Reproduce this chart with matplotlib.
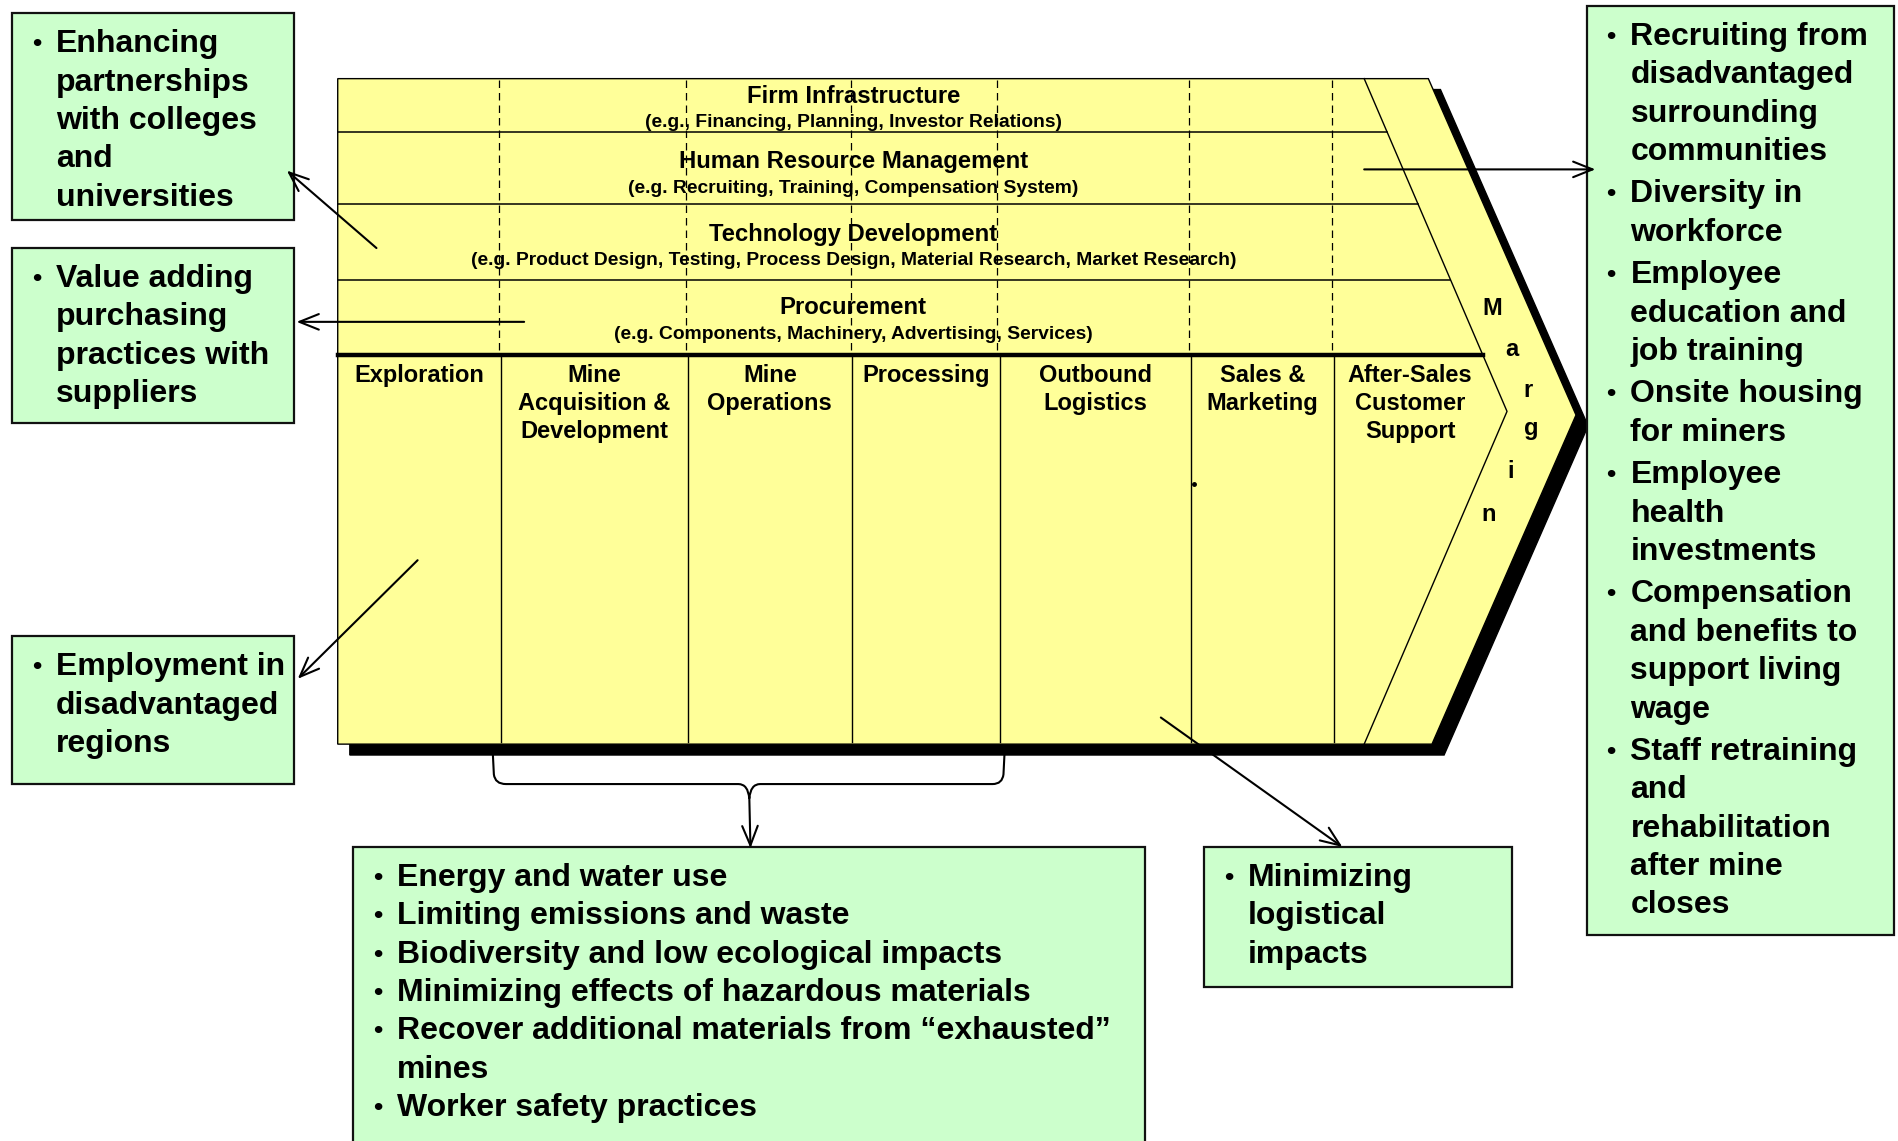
import matplotlib
matplotlib.use("Agg")
import matplotlib.pyplot as plt
from matplotlib.patches import Polygon, Rectangle, PathPatch
from matplotlib.path import Path

plt.rcParams['font.family'] = ['Liberation Sans', 'DejaVu Sans']
plt.rcParams['font.weight'] = 'bold'

# ---- content ----
support_rows = ["Firm Infrastructure", "Human Resource Management",
                "Technology Development", "Procurement"]
support_examples = ["(e.g., Financing, Planning, Investor Relations)",
                    "(e.g. Recruiting, Training, Compensation System)",
                    "(e.g. Product Design, Testing, Process Design, Material Research, Market Research)",
                    "(e.g. Components, Machinery, Advertising, Services)"]
primary_activities = ["Exploration", "Mine\nAcquisition &\nDevelopment", "Mine\nOperations",
                      "Processing", "Outbound\nLogistics", "Sales &\nMarketing",
                      "After-Sales\nCustomer\nSupport"]
margin_label = "Margin"

box_partnerships = ["Enhancing\npartnerships\nwith colleges\nand\nuniversities"]
box_purchasing = ["Value adding\npurchasing\npractices with\nsuppliers"]
box_employment = ["Employment in\ndisadvantaged\nregions"]
box_operations = ["Energy and water use",
                  "Limiting emissions and waste",
                  "Biodiversity and low ecological impacts",
                  "Minimizing effects of hazardous materials",
                  "Recover additional materials from \u201cexhausted\u201d\nmines",
                  "Worker safety practices"]
box_logistics = ["Minimizing\nlogistical\nimpacts"]
box_hr = ["Recruiting from\ndisadvantaged\nsurrounding\ncommunities",
          "Diversity in\nworkforce",
          "Employee\neducation and\njob training",
          "Onsite housing\nfor miners",
          "Employee\nhealth\ninvestments",
          "Compensation\nand benefits to\nsupport living\nwage",
          "Staff retraining\nand\nrehabilitation\nafter mine\ncloses"]

# ---- layout (units = pixels of a 1568 x 943 canvas) ----
W, H = 1568, 943
YELLOW = "#FFFF99"
GREEN = "#CCFFCC"
row_edges = [65, 109, 169, 231, 293]
col_edges = [279, 414, 568, 704, 826, 984, 1102]
dashed_x = [412, 567, 703, 824, 982, 1100]
bottom = 615

fig = plt.figure(figsize=(18.98, 11.41), dpi=100)
ax = fig.add_axes([0, 0, 1, 1])
ax.set_xlim(0, W)
ax.set_ylim(H, 0)
ax.axis('off')

outer = [(279, 65), (1180, 65), (1302, 343), (1183, bottom), (279, bottom)]
shadow = [(x + 10, y + 9) for x, y in outer]
ax.add_patch(Polygon(shadow, closed=True, fc='black', ec='black', lw=1, zorder=2))
ax.add_patch(Polygon(outer, closed=True, fc=YELLOW, ec='black', lw=1, zorder=3))

# inner chevron line
inner = [(1127, 65), (1245, 340), (1127, bottom)]
ax.plot([p[0] for p in inner], [p[1] for p in inner], color='black', lw=1, zorder=4)


def inner_x(y):
    return 1127 + (y - 65) / (340 - 65) * (1245 - 1127)


# horizontal separators of support activities
for y in row_edges[1:-1]:
    ax.plot([279, inner_x(y)], [y, y], color='black', lw=1.1, zorder=4)
ax.plot([279, inner_x(row_edges[-1])], [row_edges[-1]] * 2, color='black', lw=3.2, zorder=5)

for x in dashed_x:
    ax.plot([x, x], [66, row_edges[-1]], color='black', lw=0.9, ls=(0, (6, 4)), zorder=4)
for x in col_edges[1:]:
    ax.plot([x, x], [row_edges[-1], bottom - 2], color='black', lw=1, zorder=4)

header_y = [79.5, 133.5, 193.5, 254.5]
for name, ex, y in zip(support_rows, support_examples, header_y):
    ax.text(705, y, name, ha='center', va='center', fontsize=17.2, zorder=6)
    ax.text(705, y + 22, ex, ha='center', va='center', fontsize=13.9, zorder=6)

centers = [(a + b) / 2 for a, b in zip(col_edges[:-1], col_edges[1:])] + [1165]
for label, cx in zip(primary_activities, centers):
    for i, line in enumerate(label.split("\n")):
        ax.text(cx, 310.5 + 23 * i, line, ha='center', va='center', fontsize=17, zorder=6)

margin_pos = [(1233, 255), (1249, 289), (1262, 323), (1265, 354), (1248, 390), (1230, 425)]
for ch, (x, y) in zip(margin_label, margin_pos):
    ax.text(x, y, ch, ha='center', va='center', fontsize=17, zorder=6)

ax.plot([986], [400], marker='o', ms=2.5, color='black', zorder=6)


def green_box(x0, y0, x1, y1, items, gap=0.0, step=31.7):
    ax.add_patch(Rectangle((x0, y0), x1 - x0, y1 - y0, fc=GREEN, ec='#111111', lw=1.6, zorder=3))
    y = y0 + 25.5
    for item in items:
        ax.text(x0 + 20, y, "\u2022", ha='center', va='center', fontsize=19, zorder=6)
        for line in item.split("\n"):
            ax.text(x0 + 36, y, line, ha='left', va='center', fontsize=23, zorder=6)
            y += step
        y += gap


green_box(10, 11, 243, 182, box_partnerships)
green_box(10, 205, 243, 350, box_purchasing)
green_box(10, 526, 243, 648, box_employment)
green_box(292, 700, 946, 960, box_operations)
green_box(995, 700, 1249, 816, box_logistics)
green_box(1311, 5, 1565, 773, box_hr, gap=3.4)

arrow_kw = dict(arrowstyle='->,head_length=0.7,head_width=0.28', color='black', lw=1.5,
                shrinkA=0, shrinkB=0, mutation_scale=20)
arrows = [((311, 205), (237, 141)), ((433, 266), (245, 266)), ((345, 463), (246, 561)),
          ((1127, 140), (1318, 140)), ((959, 593), (1109, 700))]
for tail, head in arrows:
    ax.annotate("", xy=head, xytext=tail, arrowprops=arrow_kw, zorder=7)

# brace under the operational columns
verts = [(407, 620), (408, 640), (409, 648), (418, 648), (610, 648), (618, 648), (619, 660),
         (830, 620), (829, 640), (828, 648), (820, 648), (628, 648), (620, 648), (619, 660)]
codes = [Path.MOVETO, Path.LINETO, Path.CURVE3, Path.CURVE3, Path.LINETO, Path.CURVE3, Path.CURVE3] * 2
ax.add_patch(PathPatch(Path(verts, codes), fc='none', ec='black', lw=1.5, zorder=1))
ax.annotate("", xy=(620, 701), xytext=(619, 658), arrowprops=arrow_kw, zorder=7)

fig.savefig("out.png", dpi=100)
